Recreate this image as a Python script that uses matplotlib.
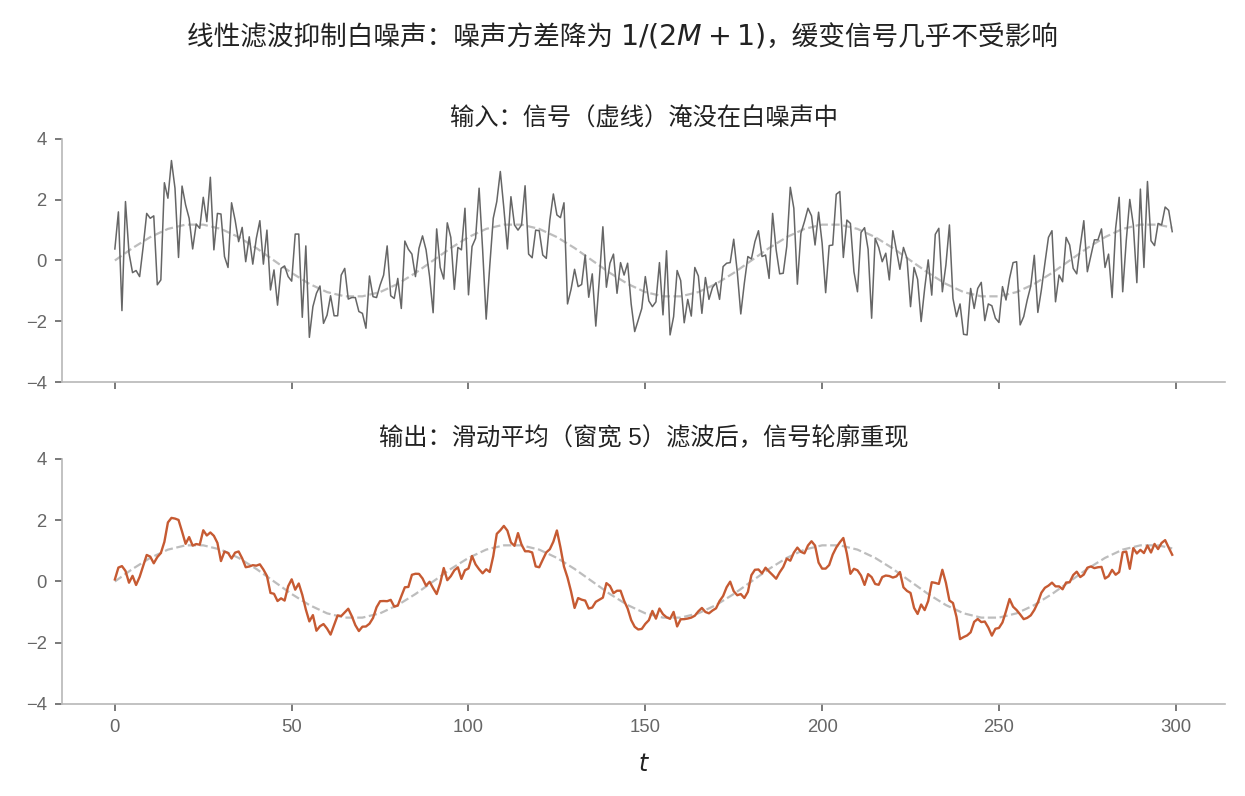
import numpy as np
import matplotlib
matplotlib.use("Agg")
import matplotlib.pyplot as plt

plt.rcParams['font.family'] = ['Liberation Sans', 'Noto Sans CJK SC', 'DejaVu Sans']
plt.rcParams['axes.unicode_minus'] = True

# noisy input (t = 0 .. 299)
x_noisy = [
    0.38, 1.60, -1.65, 1.94, 0.24, -0.40, -0.33, -0.53, 0.45, 1.55,
    1.39, 1.47, -0.80, -0.64, 2.56, 2.05, 3.29, 2.38, 0.10, 2.45,
    1.83, 1.39, 0.38, 1.20, 1.06, 2.08, 1.28, 2.74, 0.35, 1.55,
    1.53, 0.13, -0.23, 1.90, 1.33, 0.62, 1.09, -0.04, 0.78, -0.12,
    0.73, 1.31, -0.12, 1.00, -0.97, -0.31, -1.47, -0.26, -0.18, -0.53,
    -0.68, 0.87, 0.87, -1.87, 0.48, -2.53, -1.52, -1.08, -0.84, -2.07,
    -1.80, -1.16, -1.82, -1.82, -0.48, -0.26, -1.27, -1.22, -1.22, -1.68,
    -1.74, -2.23, -0.51, -1.19, -1.22, -0.81, -0.48, 0.48, -1.16, -1.25,
    -0.59, -1.58, 0.64, 0.37, 0.21, -0.53, 0.40, 0.81, 0.35, -0.53,
    -1.72, 1.04, -0.23, -0.61, 1.24, 0.76, -0.95, 0.43, 0.35, 1.72,
    -1.13, 0.46, 0.73, 2.38, 0.35, -1.93, -0.20, 1.39, 1.94, 2.93,
    1.72, 0.38, 2.10, 1.17, 1.00, 1.17, 2.46, 0.21, 0.09, 1.00,
    0.98, 0.18, 0.07, 1.33, 2.19, 1.50, 1.41, 1.90, -1.43, -0.95,
    -0.29, -0.86, -0.79, 0.18, -1.21, -0.44, -2.16, -0.62, 1.11, -0.88,
    -0.09, 0.21, -1.08, -0.07, -0.48, -0.09, -1.43, -2.34, -1.96, -1.58,
    -0.53, -1.33, -1.52, -1.36, -0.07, -1.79, 0.32, -2.45, -1.85, -0.33,
    -0.66, -2.05, -1.28, -1.83, -0.23, -0.51, -1.74, -0.56, -1.28, -0.89,
    -0.73, -1.28, -0.20, -0.09, -0.07, 0.70, -0.37, -1.76, -0.75, 0.13,
    0.05, 0.62, 0.98, 0.13, 0.18, -0.59, 1.55, 0.35, -0.44, -0.42,
    0.46, 2.41, 1.72, -0.78, 0.90, 1.28, 1.72, 1.47, 0.51, 1.59,
    0.57, -1.06, 0.49, 0.51, 2.18, 2.27, 0.10, 1.33, 1.22, -0.37,
    -1.03, 0.92, 1.08, 0.37, -1.90, 0.73, 0.43, -0.04, 0.24, -0.64,
    0.98, 0.35, -0.29, 0.43, 0.07, -1.52, -0.23, -0.62, -2.01, -0.92,
    0.02, -1.14, 0.86, 1.06, -1.03, -0.15, 1.17, -1.25, -1.85, -1.43,
    -2.43, -2.45, -0.92, -1.58, -0.92, -0.72, -1.98, -1.43, -1.49, -1.90,
    -2.04, -0.86, -1.30, -0.59, -0.07, -0.04, -2.12, -1.85, -1.30, -0.84,
    0.17, -1.71, -0.97, -0.09, 0.76, 0.98, -1.36, -0.48, -0.70, 0.76,
    0.51, -0.26, -0.44, 0.48, 1.31, -0.37, 0.15, 0.68, 0.68, 1.04,
    -0.23, 0.21, -1.22, 1.06, 2.08, -1.03, 0.65, 2.01, 1.17, -0.73,
    2.35, -0.23, 2.60, 0.65, 0.49, 1.22, 1.17, 1.76, 1.65, 0.95,
]
t = np.arange(len(x_noisy))

# clean signal (dashed), read every 5 steps
t_clean = list(range(0, 300, 5)) + [299]
s_clean = [
    0.00, 0.41, 0.77, 1.04, 1.18, 1.18, 1.04, 0.77, 0.41, 0.00,
    -0.41, -0.77, -1.04, -1.18, -1.18, -1.04, -0.77, -0.41,
    0.00, 0.41, 0.77, 1.04, 1.18, 1.18, 1.04, 0.77, 0.41, 0.00,
    -0.41, -0.77, -1.04, -1.18, -1.18, -1.04, -0.77, -0.41,
    0.00, 0.41, 0.77, 1.04, 1.18, 1.18, 1.04, 0.77, 0.41, 0.00,
    -0.41, -0.77, -1.04, -1.18, -1.18, -1.04, -0.77, -0.41,
    0.00, 0.41, 0.77, 1.04, 1.18, 1.18, 1.08,
]

M = 2
y_smooth = np.convolve(x_noisy, np.ones(2 * M + 1) / (2 * M + 1), mode='same')

W, H = 1245, 796
fig = plt.figure(figsize=(W / 100, H / 100), dpi=100)
ax1 = fig.add_axes([0.0498, 0.5201, 0.9342, 0.3053])
ax2 = fig.add_axes([0.0498, 0.1156, 0.9342, 0.3078], sharex=ax1)

dash_color = '#bdbdbd'
ax1.plot(t_clean, s_clean, '--', color=dash_color, lw=1.6, zorder=1)
ax1.plot(t, x_noisy, color='#666666', lw=1.1, zorder=2)
ax2.plot(t_clean, s_clean, '--', color=dash_color, lw=1.6, zorder=1)
ax2.plot(t, y_smooth, color='#c65a32', lw=1.7, zorder=2)

for ax in (ax1, ax2):
    ax.set_ylim(-4, 4)
    ax.set_yticks([-4, -2, 0, 2, 4])
    for s in ('top', 'right'):
        ax.spines[s].set_visible(False)
    for s in ('left', 'bottom'):
        ax.spines[s].set_color('#b8b8b8')
        ax.spines[s].set_linewidth(1.2)
    ax.tick_params(colors='#555555', labelcolor='#666666', labelsize=13.3,
                   length=5, width=1.1, pad=6)

ax2.set_xticks([0, 50, 100, 150, 200, 250, 300])
ax1.tick_params(labelbottom=False)

ax1.set_title('输入：信号（虚线）淹没在白噪声中', fontsize=17.5, color='#222222', pad=10)
ax2.set_title('输出：滑动平均（窗宽 5）滤波后，信号轮廓重现', fontsize=17.5, color='#222222', pad=10)
ax2.set_xlabel('$t$', fontsize=17, color='#222222', labelpad=13)

# suptitle built from pieces so the CJK text and the math both render
title_parts = ['线性滤波抑制白噪声：噪声方差降为 ', '$1/(2M+1)$', '，缓变信号几乎不受影响']
title_sizes = [19.2, 20.5, 19.2]
base_y = 1 - 45 / H
pieces = [fig.text(0, base_y, s, fontsize=fs, color='#222222', va='baseline', ha='left')
          for s, fs in zip(title_parts, title_sizes)]
fig.canvas.draw()
rend = fig.canvas.get_renderer()
widths = [p.get_window_extent(rend).width for p in pieces]
x0 = (W - sum(widths)) / 2
for p, w in zip(pieces, widths):
    p.set_x(x0 / W)
    x0 += w

fig.savefig('out.png', dpi=100)
